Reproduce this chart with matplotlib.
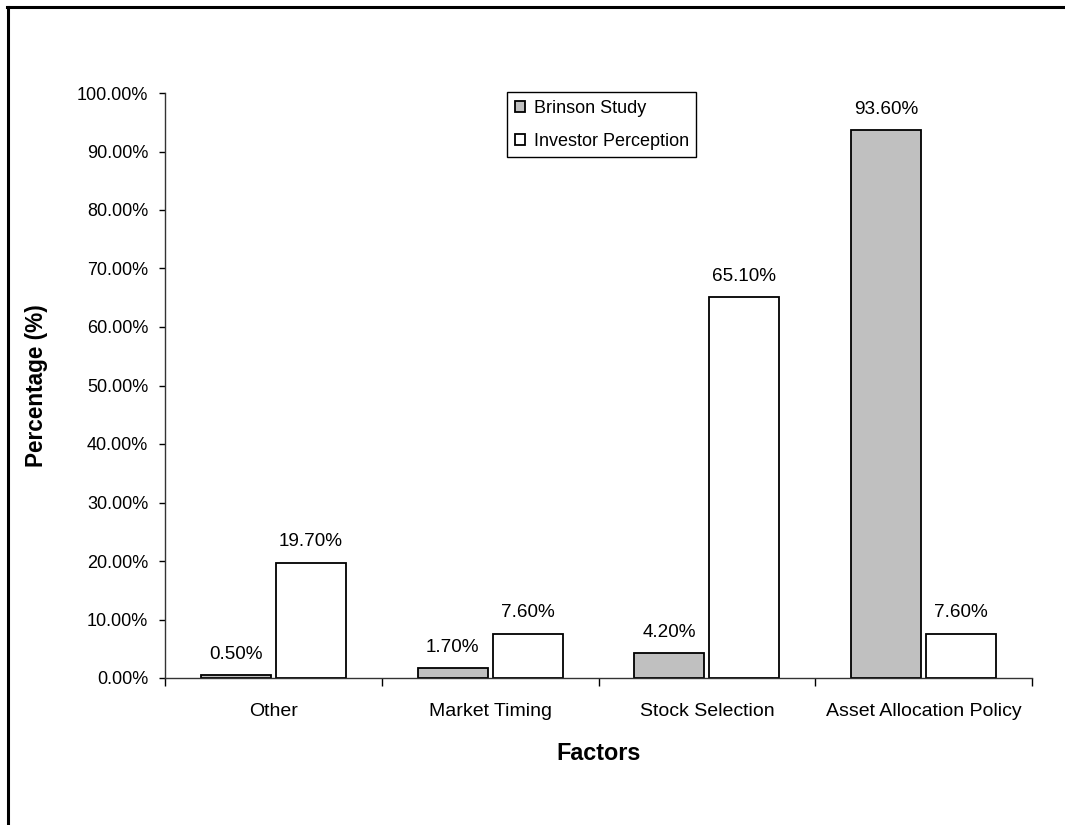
import numpy as np
import matplotlib
matplotlib.use("Agg")
import matplotlib.pyplot as plt
from matplotlib.lines import Line2D
from matplotlib.ticker import FuncFormatter, FixedLocator

plt.rcParams['font.family'] = ['Liberation Sans', 'DejaVu Sans']

categories = ["Other", "Market Timing", "Stock Selection", "Asset Allocation Policy"]
brinson_study = [0.5, 1.7, 4.2, 93.6]
investor_perception = [19.7, 7.6, 65.1, 7.6]
series_names = ["Brinson Study", "Investor Perception"]

W, H = 1065, 825
fig = plt.figure(figsize=(W / 100, H / 100), dpi=100)
ax = fig.add_axes([165 / W, 1 - 678 / H, (1032 - 165) / W, (678 - 93) / H])

x = np.arange(len(categories))
bw = 0.323
off = 0.173
b1 = ax.bar(x - off, brinson_study, bw, color="#C0C0C0", edgecolor="black",
            linewidth=1.3, label=series_names[0])
b2 = ax.bar(x + off, investor_perception, bw, color="white", edgecolor="black",
            linewidth=1.3, label=series_names[1])

for bars, vals in ((b1, brinson_study), (b2, investor_perception)):
    for rect, v in zip(bars, vals):
        ax.annotate(f"{v:.2f}%", (rect.get_x() + rect.get_width() / 2, v),
                    xytext=(0, 9), textcoords="offset points",
                    ha="center", va="bottom", fontsize=13.6)

ax.set_xlim(-0.5, len(categories) - 0.5)
ax.set_ylim(0, 100)
ax.set_yticks(np.arange(0, 101, 10))
ax.yaxis.set_major_formatter(FuncFormatter(lambda v, p: f"{v:.2f}%"))
ax.tick_params(axis="y", length=4, width=1, pad=8, labelsize=13)

ax.set_xticks(x)
ax.set_xticklabels(categories)
ax.xaxis.set_minor_locator(FixedLocator(np.arange(-0.5, len(categories), 1.0)))
ax.tick_params(axis="x", which="major", length=0, pad=18, labelsize=14)
ax.tick_params(axis="x", which="minor", length=6, width=1)

for s in ("top", "right"):
    ax.spines[s].set_visible(False)
for s in ("left", "bottom"):
    ax.spines[s].set_linewidth(1)
    ax.spines[s].set_color("#333333")

ax.set_ylabel("Percentage (%)", fontsize=16.3, fontweight="bold", labelpad=21)
ax.set_xlabel("Factors", fontsize=16.8, fontweight="bold", labelpad=16)

leg = ax.legend(loc="upper left", bbox_to_anchor=(507 / W, 1 - 92 / H),
                bbox_transform=fig.transFigure, borderaxespad=0, fontsize=13,
                fancybox=False, framealpha=1, edgecolor="black",
                handlelength=0.55, handleheight=0.55, handletextpad=0.5,
                borderpad=0.42, labelspacing=0.9)
leg.get_frame().set_linewidth(1)

# outer frame lines along left and top edges of the figure
fig.add_artist(Line2D([7.5 / W, 7.5 / W], [0, 1 - 6.5 / H], transform=fig.transFigure,
                      color="black", linewidth=2.2))
fig.add_artist(Line2D([6.5 / W, 1], [1 - 6.5 / H, 1 - 6.5 / H], transform=fig.transFigure,
                      color="black", linewidth=2.2))

fig.savefig("out.png", dpi=100)
